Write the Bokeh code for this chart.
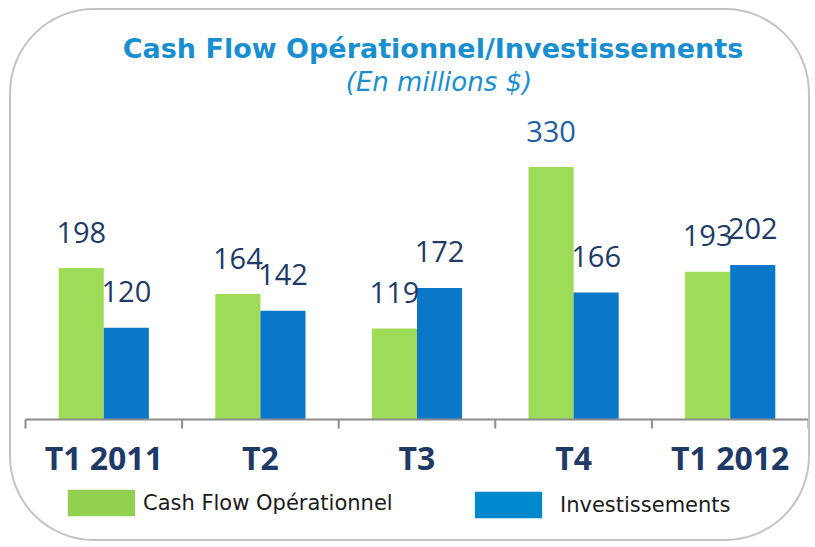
from bokeh.plotting import figure
from bokeh.models import ColumnDataSource, Label, Legend, LegendItem, Range1d
from bokeh.core.properties import value
from bokeh.embed import file_html
from bokeh.resources import INLINE

# ---- data ----
categories = ["T1 2011", "T2", "T3", "T4", "T1 2012"]
cash_flow = [198, 164, 119, 330, 193]
investissements = [120, 142, 172, 166, 202]
series_names = ["Cash Flow Opérationnel", "Investissements"]
title_text = "Cash Flow Opérationnel/Investissements"
subtitle_text = "(En millions $)"

# ---- styles ----
GREEN = "#9edb58"
BLUE = "#0a77c9"
LEG_GREEN = "#92d050"
LEG_BLUE = "#0088cc"
NAVY = "#1f3a66"
TITLE_BLUE = "#1a8fd0"
AXIS_GRAY = "#8c8c8c"
BAR_W = 0.288

W, H = 801, 533            # canvas size (px)
X0, X1 = 14, 797           # canvas x of first / last category boundary
BASE = 409                 # canvas y of the baseline
KY = 0.765                 # px per unit on y

n = len(categories)
ux = (X1 - X0) / n
centers = [i + 0.5 for i in range(n)]

p = figure(width=W, height=H, output_backend="svg", toolbar_location=None,
           x_range=Range1d(-X0 / ux, n + (W - X1) / ux),
           y_range=Range1d(-(H - BASE) / KY, BASE / KY),
           min_border=0)
p.styles = {"border": "2px solid #c3c3c3", "border-radius": "85px",
            "margin": "8px 0 0 9px"}
p.background_fill_color = None
p.border_fill_color = None
p.outline_line_color = None
p.xgrid.visible = False
p.ygrid.visible = False
p.xaxis.visible = False
p.yaxis.visible = False

src_g = ColumnDataSource(dict(x=[c - BAR_W / 2 for c in centers], top=cash_flow,
                              lbl=[str(v) for v in cash_flow],
                              col=["#1c5ea6" if v == max(cash_flow) else NAVY for v in cash_flow]))
src_b = ColumnDataSource(dict(x=[c + BAR_W / 2 for c in centers], top=investissements,
                              lbl=[str(v) for v in investissements],
                              col=[NAVY] * n))

p.vbar(x="x", top="top", width=BAR_W, source=src_g, fill_color=GREEN, line_color=None)
p.vbar(x="x", top="top", width=BAR_W, source=src_b, fill_color=BLUE, line_color=None)

for src in (src_g, src_b):
    p.text(x="x", y="top", text="lbl", source=src, text_align="center",
           text_baseline="alphabetic", y_offset=-36, text_color="col",
           text_font=value("Open Sans"), text_font_size="29px")

# category axis: baseline, boundary ticks and labels
bounds = list(range(n + 1))
p.line(x=[bounds[0], bounds[-1]], y=[0, 0], line_color=AXIS_GRAY, line_width=2)
p.segment(x0=bounds, y0=[0] * len(bounds), x1=bounds, y1=[-9 / KY] * len(bounds),
          line_color=AXIS_GRAY, line_width=2)
p.text(x=centers, y=[0] * n, text=categories, text_align="center",
       text_baseline="alphabetic", y_offset=38, text_color=NAVY,
       text_font=value("Open Sans"), text_font_style="bold", text_font_size="32px")

# titles
p.add_layout(Label(x=n / 2, y=(BASE - 38) / KY, text=title_text, text_align="center",
                   text_baseline="alphabetic", x_offset=16,
                   text_font="DejaVu Sans", text_font_style="bold",
                   text_font_size="27px", text_color=TITLE_BLUE))
p.add_layout(Label(x=n / 2, y=(BASE - 71) / KY, text=subtitle_text, text_align="center",
                   text_baseline="alphabetic", x_offset=22,
                   text_font="DejaVu Sans", text_font_style="italic",
                   text_font_size="26px", text_color=TITLE_BLUE))

# legends (area legend glyphs are inset by 10% on each side)
r1 = p.vbar(x=[0], top=[0], bottom=[0], width=0.001, fill_color=LEG_GREEN, line_color=None)
r2 = p.vbar(x=[0], top=[0], bottom=[0], width=0.001, fill_color=LEG_BLUE, line_color=None)
common = dict(orientation="horizontal", glyph_width=84, glyph_height=33,
              padding=0, margin=0, border_line_color=None, background_fill_alpha=0,
              label_text_font="DejaVu Sans", label_text_font_size="21px",
              label_text_color="#1a1a1a")
p.add_layout(Legend(items=[LegendItem(label=series_names[0], renderers=[r1])],
                    location=(48, 24), label_standoff=0, **common))
p.add_layout(Legend(items=[LegendItem(label=series_names[1], renderers=[r2])],
                    location=(455, 22), label_standoff=10, **common))

open("out.html", "w").write(file_html(p, INLINE))
